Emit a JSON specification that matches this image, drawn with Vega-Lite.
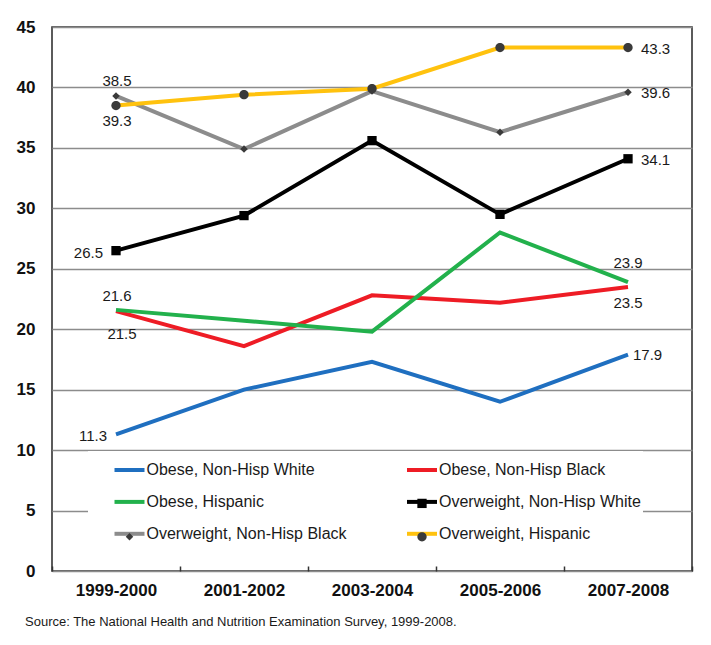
{
  "$schema": "https://vega.github.io/schema/vega-lite/v6.json",
  "width": 640,
  "height": 544,
  "autosize": {"type": "none"},
  "padding": {"left": 52, "top": 27, "right": 19, "bottom": 74},
  "background": "white",
  "config": {
    "font": "Liberation Sans, Arial, sans-serif",
    "view": {"stroke": "#333333", "strokeWidth": 1.6}
  },
  "title": {
    "text": "Source: The National Health and Nutrition Examination Survey, 1999-2008.",
    "orient": "bottom",
    "anchor": "start",
    "frame": "group",
    "dx": -27,
    "offset": 18,
    "fontSize": 13,
    "fontWeight": "normal",
    "color": "#1a1a1a"
  },
  "data": {
    "values": [
      {"period": "1999-2000", "series": "Obese, Non-Hisp White", "value": 11.3},
      {"period": "2001-2002", "series": "Obese, Non-Hisp White", "value": 15.0},
      {"period": "2003-2004", "series": "Obese, Non-Hisp White", "value": 17.3},
      {"period": "2005-2006", "series": "Obese, Non-Hisp White", "value": 14.0},
      {"period": "2007-2008", "series": "Obese, Non-Hisp White", "value": 17.9},
      {"period": "1999-2000", "series": "Obese, Non-Hisp Black", "value": 21.5},
      {"period": "2001-2002", "series": "Obese, Non-Hisp Black", "value": 18.6},
      {"period": "2003-2004", "series": "Obese, Non-Hisp Black", "value": 22.8},
      {"period": "2005-2006", "series": "Obese, Non-Hisp Black", "value": 22.2},
      {"period": "2007-2008", "series": "Obese, Non-Hisp Black", "value": 23.5},
      {"period": "1999-2000", "series": "Obese, Hispanic", "value": 21.6},
      {"period": "2001-2002", "series": "Obese, Hispanic", "value": 20.7},
      {"period": "2003-2004", "series": "Obese, Hispanic", "value": 19.8},
      {"period": "2005-2006", "series": "Obese, Hispanic", "value": 28.0},
      {"period": "2007-2008", "series": "Obese, Hispanic", "value": 23.9},
      {"period": "1999-2000", "series": "Overweight, Non-Hisp White", "value": 26.5},
      {"period": "2001-2002", "series": "Overweight, Non-Hisp White", "value": 29.4},
      {"period": "2003-2004", "series": "Overweight, Non-Hisp White", "value": 35.6},
      {"period": "2005-2006", "series": "Overweight, Non-Hisp White", "value": 29.5},
      {"period": "2007-2008", "series": "Overweight, Non-Hisp White", "value": 34.1},
      {"period": "1999-2000", "series": "Overweight, Non-Hisp Black", "value": 39.3},
      {"period": "2001-2002", "series": "Overweight, Non-Hisp Black", "value": 34.9},
      {"period": "2003-2004", "series": "Overweight, Non-Hisp Black", "value": 39.7},
      {"period": "2005-2006", "series": "Overweight, Non-Hisp Black", "value": 36.3},
      {"period": "2007-2008", "series": "Overweight, Non-Hisp Black", "value": 39.6},
      {"period": "1999-2000", "series": "Overweight, Hispanic", "value": 38.5},
      {"period": "2001-2002", "series": "Overweight, Hispanic", "value": 39.4},
      {"period": "2003-2004", "series": "Overweight, Hispanic", "value": 39.9},
      {"period": "2005-2006", "series": "Overweight, Hispanic", "value": 43.3},
      {"period": "2007-2008", "series": "Overweight, Hispanic", "value": 43.3}
    ]
  },
  "encoding": {
    "x": {
      "field": "period",
      "type": "ordinal",
      "scale": {"paddingInner": 0, "paddingOuter": 0},
      "axis": {
        "title": null,
        "labelAngle": 0,
        "labelFontSize": 17,
        "labelFontWeight": "bold",
        "labelColor": "#111111",
        "labelPadding": 16,
        "domain": false,
        "ticks": true,
        "tickBand": "extent",
        "tickSize": -5,
        "tickColor": "#333333",
        "tickWidth": 1.5,
        "grid": false
      }
    },
    "y": {
      "field": "value",
      "type": "quantitative",
      "scale": {"domain": [0, 45], "nice": false},
      "axis": {
        "title": null,
        "values": [0, 5, 10, 15, 20, 25, 30, 35, 40, 45],
        "grid": true,
        "gridColor": "#8c8c8c",
        "gridWidth": 1.5,
        "domain": false,
        "ticks": false,
        "labelPadding": 17,
        "labelFontSize": 17,
        "labelFontWeight": "bold",
        "labelColor": "#111111"
      }
    }
  },
  "layer": [
    {
      "mark": {"type": "line", "strokeWidth": 4},
      "encoding": {
        "color": {
          "field": "series",
          "type": "nominal",
          "sort": ["Obese, Non-Hisp White", "Obese, Non-Hisp Black", "Obese, Hispanic", "Overweight, Non-Hisp White", "Overweight, Non-Hisp Black", "Overweight, Hispanic"],
          "scale": {"range": ["#1f6fc0", "#ee1c25", "#22b14c", "#000000", "#8c8c8c", "#ffc20e"]},
          "legend": {
            "orient": "none", "legendX": 36, "legendY": 424, "columns": 2, "direction": "horizontal", "gridAlign": "all", "title": null,
            "symbolType": "stroke", "symbolSize": 900, "symbolStrokeWidth": 4,
            "labelFontSize": 16, "labelColor": "#1a1a1a", "labelOffset": 0, "symbolOffset": 22.5,
            "padding": 2, "rowPadding": 6.9, "columnPadding": 33.5, "labelLimit": 320,
            "fillColor": "white", "zindex": 1
          }
        }
      }
    },
    {
      "transform": [{"filter": {"field": "series", "oneOf": ["Overweight, Non-Hisp White", "Overweight, Non-Hisp Black", "Overweight, Hispanic"]}}],
      "mark": {"type": "point", "filled": true, "size": 900, "opacity": 1},
      "encoding": {
        "shape": {
          "field": "series",
          "type": "nominal",
          "scale": {
            "domain": ["Obese, Non-Hisp White", "Obese, Non-Hisp Black", "Obese, Hispanic", "Overweight, Non-Hisp White", "Overweight, Non-Hisp Black", "Overweight, Hispanic"],
            "range": ["M0,0Z", "M0,0Z", "M0,0Z", "M-0.31,-0.31H0.31V0.31H-0.31Z", "M0,-0.25L0.25,0L0,0.25L-0.25,0Z", "M-0.31,0A0.31,0.31 0 1,0 0.31,0A0.31,0.31 0 1,0 -0.31,0Z"]
          },
          "legend": {
            "orient": "none", "legendX": 36, "legendY": 424, "columns": 2, "direction": "horizontal", "gridAlign": "all", "title": null,
            "symbolSize": 900, "symbolStrokeWidth": 4, "symbolStrokeColor": "transparent",
            "labelFontSize": 16, "labelColor": "transparent", "labelOffset": 0, "symbolOffset": 22.5,
            "padding": 2, "rowPadding": 3.4, "columnPadding": 33.5, "labelLimit": 320,
            "zindex": 2
          }
        },
        "fill": {
          "field": "series",
          "type": "nominal",
          "scale": {
            "domain": ["Obese, Non-Hisp White", "Obese, Non-Hisp Black", "Obese, Hispanic", "Overweight, Non-Hisp White", "Overweight, Non-Hisp Black", "Overweight, Hispanic"],
            "range": ["transparent", "transparent", "transparent", "#000000", "#3a3a3a", "#3a3a3a"]
          },
          "legend": {
            "orient": "none", "legendX": 36, "legendY": 424, "columns": 2, "direction": "horizontal", "gridAlign": "all", "title": null,
            "symbolSize": 900, "symbolStrokeWidth": 4, "symbolStrokeColor": "transparent",
            "labelFontSize": 16, "labelColor": "transparent", "labelOffset": 0, "symbolOffset": 22.5,
            "padding": 2, "rowPadding": 3.4, "columnPadding": 33.5, "labelLimit": 320,
            "zindex": 2
          }
        }
      }
    },
    {
      "transform": [{"filter": {"and": [{"field": "period", "equal": "1999-2000"}, {"field": "series", "equal": "Overweight, Hispanic"}]}}],
      "mark": {"type": "text", "fontSize": 15, "color": "#1a1a1a", "baseline": "middle", "align": "center", "dx": 1, "dy": -24.5},
      "encoding": {"text": {"field": "value", "type": "quantitative", "format": ".1f"}}
    },
    {
      "transform": [{"filter": {"and": [{"field": "period", "equal": "1999-2000"}, {"field": "series", "equal": "Overweight, Non-Hisp Black"}]}}],
      "mark": {"type": "text", "fontSize": 15, "color": "#1a1a1a", "baseline": "middle", "align": "center", "dx": 1, "dy": 25},
      "encoding": {"text": {"field": "value", "type": "quantitative", "format": ".1f"}}
    },
    {
      "transform": [{"filter": {"and": [{"field": "period", "equal": "1999-2000"}, {"field": "series", "equal": "Overweight, Non-Hisp White"}]}}],
      "mark": {"type": "text", "fontSize": 15, "color": "#1a1a1a", "baseline": "middle", "align": "right", "dx": -13, "dy": 2},
      "encoding": {"text": {"field": "value", "type": "quantitative", "format": ".1f"}}
    },
    {
      "transform": [{"filter": {"and": [{"field": "period", "equal": "1999-2000"}, {"field": "series", "equal": "Obese, Non-Hisp White"}]}}],
      "mark": {"type": "text", "fontSize": 15, "color": "#1a1a1a", "baseline": "middle", "align": "right", "dx": -9, "dy": 2},
      "encoding": {"text": {"field": "value", "type": "quantitative", "format": ".1f"}}
    },
    {
      "transform": [{"filter": {"and": [{"field": "period", "equal": "1999-2000"}, {"field": "series", "equal": "Obese, Hispanic"}]}}],
      "mark": {"type": "text", "fontSize": 15, "color": "#1a1a1a", "baseline": "middle", "align": "center", "dx": 1, "dy": -14},
      "encoding": {"text": {"field": "value", "type": "quantitative", "format": ".1f"}}
    },
    {
      "transform": [{"filter": {"and": [{"field": "period", "equal": "1999-2000"}, {"field": "series", "equal": "Obese, Non-Hisp Black"}]}}],
      "mark": {"type": "text", "fontSize": 15, "color": "#1a1a1a", "baseline": "middle", "align": "center", "dx": 6, "dy": 23},
      "encoding": {"text": {"field": "value", "type": "quantitative", "format": ".1f"}}
    },
    {
      "transform": [{"filter": {"and": [{"field": "period", "equal": "2007-2008"}, {"field": "series", "equal": "Obese, Non-Hisp White"}]}}],
      "mark": {"type": "text", "fontSize": 15, "color": "#1a1a1a", "baseline": "middle", "align": "left", "dx": 5, "dy": 0},
      "encoding": {"text": {"field": "value", "type": "quantitative", "format": ".1f"}}
    },
    {
      "transform": [{"filter": {"and": [{"field": "period", "equal": "2007-2008"}, {"field": "series", "equal": "Obese, Hispanic"}]}}],
      "mark": {"type": "text", "fontSize": 15, "color": "#1a1a1a", "baseline": "middle", "align": "center", "dx": 0, "dy": -19},
      "encoding": {"text": {"field": "value", "type": "quantitative", "format": ".1f"}}
    },
    {
      "transform": [{"filter": {"and": [{"field": "period", "equal": "2007-2008"}, {"field": "series", "equal": "Obese, Non-Hisp Black"}]}}],
      "mark": {"type": "text", "fontSize": 15, "color": "#1a1a1a", "baseline": "middle", "align": "center", "dx": 0, "dy": 16},
      "encoding": {"text": {"field": "value", "type": "quantitative", "format": ".1f"}}
    },
    {
      "transform": [{"filter": {"and": [{"field": "period", "equal": "2007-2008"}, {"field": "series", "oneOf": ["Overweight, Non-Hisp White", "Overweight, Non-Hisp Black", "Overweight, Hispanic"]}]}}],
      "mark": {"type": "text", "fontSize": 15, "color": "#1a1a1a", "baseline": "middle", "align": "left", "dx": 13, "dy": 1},
      "encoding": {"text": {"field": "value", "type": "quantitative", "format": ".1f"}}
    }
  ]
}
